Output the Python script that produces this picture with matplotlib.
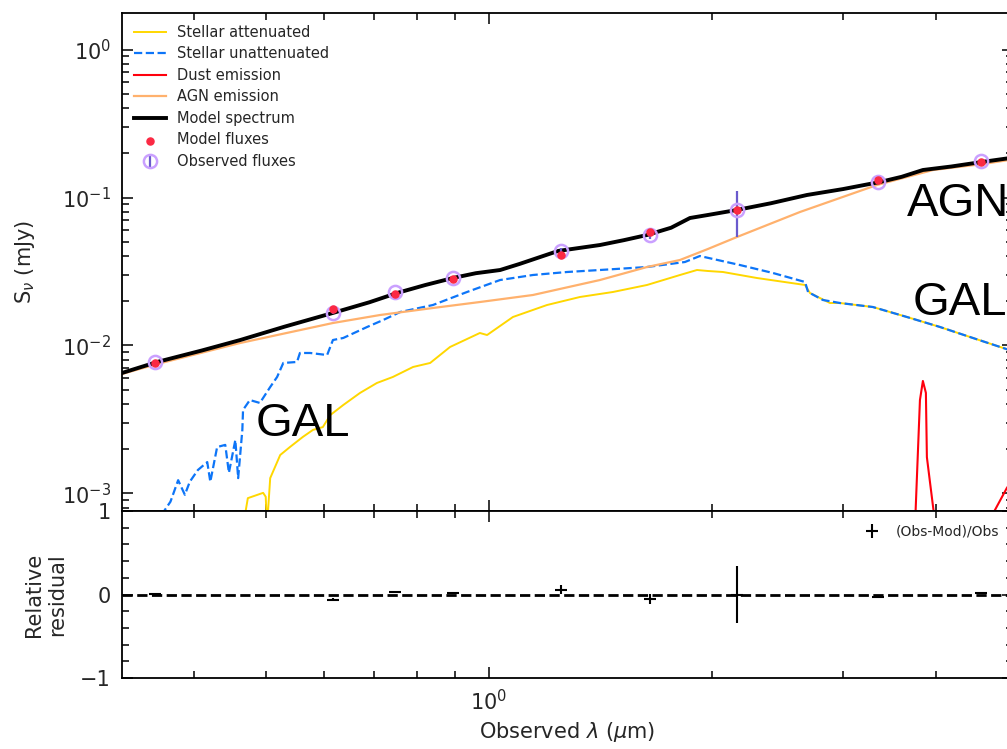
import matplotlib
matplotlib.use("Agg")
import matplotlib.pyplot as plt
from matplotlib.ticker import MultipleLocator, NullFormatter, LogLocator

# photometry: SDSS u r i z, 2MASS J H Ks, WISE W1 W2  (micron, mJy)
filt_wl = [0.355, 0.617, 0.748, 0.893, 1.25, 1.65, 2.16, 3.35, 4.60]
obs_flux = [0.00774, 0.0166, 0.0230, 0.0286, 0.0435, 0.0558, 0.0824, 0.1273, 0.1765]
obs_err = [0.0001, 0.0003, 0.0003, 0.0003, 0.0022, 0.0033, 0.028, 0.0010, 0.0020]
mod_flux = [0.00766, 0.0176, 0.0223, 0.0280, 0.0409, 0.0586, 0.0824, 0.1311, 0.1730]

# model spectrum
model_wl = [0.320, 0.357, 0.410, 0.462, 0.530, 0.616, 0.690, 0.752, 0.820, 0.894, 0.960,
            1.035, 1.100, 1.239, 1.411, 1.520, 1.633, 1.760, 1.866, 1.973, 2.159, 2.400,
            2.683, 3.000, 3.365, 3.600, 3.845, 4.200, 4.617, 5.085]
model_f = [0.00652, 0.00774, 0.00925, 0.01089, 0.01340, 0.01660, 0.01960, 0.02265, 0.02560,
           0.02858, 0.03080, 0.03236, 0.03560, 0.04352, 0.04775, 0.05150, 0.05580, 0.06250,
           0.0727, 0.07620, 0.08240, 0.09150, 0.1040, 0.1140, 0.1273, 0.1380, 0.1534,
           0.1620, 0.1738, 0.1860]

# AGN component
agn_wl = [0.320, 0.357, 0.462, 0.616, 0.713, 0.840, 0.972, 1.146, 1.411, 1.633,
          1.809, 1.973, 2.159, 2.625, 3.334, 3.967, 4.632, 5.085]
agn_f = [0.00642, 0.00750, 0.01040, 0.01419, 0.01607, 0.01792, 0.01967, 0.02194, 0.02770,
         0.03391, 0.03783, 0.04490, 0.05408, 0.0798, 0.1215, 0.1534, 0.1684, 0.1810]

# stellar unattenuated
unatt_wl = [0.355, 0.362, 0.372, 0.381, 0.389, 0.395, 0.405, 0.417, 0.421, 0.430, 0.441,
            0.446, 0.455, 0.459, 0.465, 0.466, 0.476, 0.491, 0.507, 0.518, 0.528, 0.551,
            0.556, 0.574, 0.605, 0.616, 0.636, 0.685, 0.720, 0.759, 0.840, 0.934, 1.035,
            1.146, 1.274, 1.411, 1.633, 1.837, 1.924, 2.179, 2.414, 2.667, 2.692, 2.819,
            2.972, 3.292, 3.659, 4.054, 4.491, 5.085]
unatt_f = [0.0005, 0.00072, 0.00088, 0.00123, 0.00098, 0.00120, 0.00144, 0.00163, 0.00120,
           0.00206, 0.00213, 0.00138, 0.00230, 0.00127, 0.00269, 0.00367, 0.00428, 0.00409,
           0.00524, 0.00613, 0.00762, 0.00774, 0.00890, 0.00890, 0.00862, 0.01089, 0.01124,
           0.01334, 0.01487, 0.01684, 0.01877, 0.02299, 0.02770, 0.02995, 0.03138, 0.03237,
           0.03391, 0.03666, 0.04024, 0.03498, 0.03090, 0.02686, 0.02299, 0.02030, 0.01937,
           0.01820, 0.01558, 0.01334, 0.01124, 0.00915]

# stellar attenuated
att_wl = [0.466, 0.473, 0.496, 0.500, 0.502, 0.507, 0.523, 0.539, 0.561, 0.579, 0.597,
          0.611, 0.636, 0.670, 0.706, 0.742, 0.790, 0.833, 0.886, 0.972, 0.994, 1.077,
          1.197, 1.326, 1.469, 1.633, 1.809, 1.907, 1.973, 2.067, 2.297, 2.667, 2.708,
          2.881, 2.972, 3.292, 3.659, 4.054, 4.491, 5.085]
att_f = [0.0006, 0.00093, 0.00101, 0.00095, 0.0006, 0.00127, 0.00182, 0.00206, 0.00241,
         0.00269, 0.00281, 0.00339, 0.00396, 0.00478, 0.00558, 0.00613, 0.00716, 0.00762,
         0.00977, 0.01215, 0.01177, 0.01558, 0.01877, 0.02127, 0.02299, 0.02564, 0.02995,
         0.03237, 0.03187, 0.03138, 0.02858, 0.02564, 0.02263, 0.01937, 0.01937, 0.01820,
         0.01558, 0.01334, 0.01124, 0.00915]

# dust emission
dust_wl = [3.580, 3.740, 3.810, 3.845, 3.881, 3.893, 3.930, 4.017, 4.314, 4.588, 4.990, 5.115]
dust_f = [0.0001, 0.0004, 0.00428, 0.00576, 0.00478, 0.00176, 0.00120, 0.0005, 0.0001,
          0.0005, 0.00109, 0.00130]

resid = [(o - m) / o for o, m in zip(obs_flux, mod_flux)]
resid_err = [e / o for e, o in zip(obs_err, obs_flux)]

plt.rcParams['text.color'] = '#262626'
plt.rcParams['xtick.labelcolor'] = '#262626'
plt.rcParams['ytick.labelcolor'] = '#262626'
plt.rcParams['axes.labelcolor'] = '#262626'

xmin, xmax = 0.3201, 5.085

fig = plt.figure(figsize=(10.07, 7.49), dpi=100)
ax1 = fig.add_axes([0.1212, 0.31776, 0.8847, 0.66488])
ax2 = fig.add_axes([0.1212, 0.09479, 0.8847, 0.22297], sharex=ax1)

ax1.loglog(att_wl, att_f, color='gold', lw=1.4, label='Stellar attenuated')
ax1.loglog(unatt_wl, unatt_f, color='xkcd:deep sky blue', ls='--', lw=1.6,
           label='Stellar unattenuated')
ax1.loglog(dust_wl, dust_f, color='xkcd:bright red', lw=1.5, label='Dust emission')
ax1.loglog(agn_wl, agn_f, color='xkcd:apricot', lw=1.6, label='AGN emission')
ax1.loglog(model_wl, model_f, color='k', lw=2.8, label='Model spectrum')
ax1.scatter(filt_wl, mod_flux, marker='o', color='xkcd:strawberry', s=26, zorder=4,
            label='Model fluxes')
ax1.errorbar(filt_wl, obs_flux, yerr=obs_err, ls='', marker='o', markersize=9.5,
             markerfacecolor='none', markeredgecolor='xkcd:pastel purple', mew=1.8,
             ecolor='#6a5acd', elinewidth=1.6, capsize=0, zorder=3, label='Observed fluxes')

ax1.set_xlim(xmin, xmax)
ax1.set_ylim(7.615e-4, 1.765)
ax1.set_ylabel(r'S$_\nu$ (mJy)', fontsize=15)
ax1.yaxis.set_label_coords(-0.096, 0.5)
ax1.tick_params(labelbottom=False)
ax1.legend(loc='upper left', fontsize=10.5, frameon=False, labelspacing=0.45,
           handlelength=2.2, borderaxespad=0.4)

txt = dict(family='Liberation Sans', fontsize=34, color='black', va='baseline')
ax1.text(0.4853, 0.002446, 'GAL', **txt)
ax1.text(3.727, 0.01607, 'GAL', **txt)
ax1.text(3.659, 0.07499, 'AGN+', **txt)

ax2.errorbar(filt_wl, resid, yerr=resid_err, marker='_', color='k', ls='', lw=1.5,
             markersize=9, mew=1.5, capsize=0, label='(Obs-Mod)/Obs')
ax2.plot([xmin, xmax], [0, 0], ls='--', color='k', lw=2)
ax2.set_xscale('log')
ax2.set_ylim(-1, 1)
ax2.yaxis.set_major_locator(MultipleLocator(1))
ax2.yaxis.set_minor_locator(MultipleLocator(0.2))
ax2.xaxis.set_minor_formatter(NullFormatter())
ax2.set_xlabel(r'Observed $\lambda$ ($\mu$m)', fontsize=15)
ax2.set_ylabel('Relative\nresidual', fontsize=15)
ax2.yaxis.set_label_coords(-0.062, 0.5)
ax2.legend(loc='upper right', fontsize=10, frameon=False, handlelength=1.8,
           borderaxespad=0.6)

for ax in (ax1, ax2):
    ax.tick_params(which='both', direction='in', top=True, right=True,
                   labelsize=15, width=1.1, color='k')
    ax.tick_params(which='major', length=8, pad=8)
    ax.tick_params(which='minor', length=5)
    for s in ax.spines.values():
        s.set_linewidth(1.3)
ax1.yaxis.set_minor_locator(LogLocator(subs=range(2, 10)))

fig.savefig('out.png', dpi=100)
